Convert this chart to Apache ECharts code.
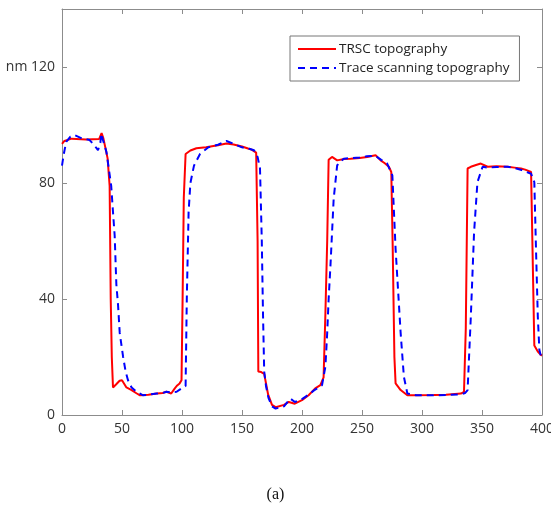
<!DOCTYPE html>
<html>
<head>
<meta charset="utf-8">
<script src="https://cdn.jsdelivr.net/npm/echarts@6/dist/echarts.min.js"></script>
<style>html,body{margin:0;padding:0;background:#fff;}#c{width:551px;height:510px;}</style>
</head>
<body>
<div id="c"></div>
<script>
const xTicks = [0, 50, 100, 150, 200, 250, 300, 350, 400];
const yTicks = [0, 40, 80, 120];
const seriesNames = ['TRSC topography', 'Trace scanning topography'];

const trscX = [0, 2, 8, 20, 31, 33, 34.5, 38, 39.7, 40.6, 41.5, 42.5, 45, 48, 50, 53.7, 58, 62, 65, 72, 79, 84, 87, 91, 94, 96, 98, 99.6, 100.5, 101.5, 103, 107, 112, 120, 130, 137, 143, 150, 155, 158, 161.8, 163, 163.6, 166, 168.5, 171.8, 175, 178, 185, 189, 194, 200, 205.5, 211, 215.3, 218, 219.5, 221, 222.2, 225, 229.3, 235, 240.4, 248, 254.3, 261.3, 265.5, 269, 272.4, 274.4, 275.5, 277, 278, 282.2, 287.8, 295, 310, 320, 332.4, 335, 336.5, 338, 340.7, 345, 349, 354.7, 362, 371.4, 377, 382.5, 386, 390.9, 392.3, 393.6, 396.5, 399.2, 400];
const trscY = [93.5, 94.5, 95.3, 95, 95.2, 97.2, 95.4, 88.5, 79, 40, 20, 9.5, 10.5, 11.8, 12, 9.5, 8.6, 7.5, 6.8, 7, 7.4, 7.6, 8.0, 7.4, 9.2, 10.2, 10.9, 12, 40, 75, 90, 91.2, 92, 92.3, 93, 93.6, 93.3, 92.6, 91.9, 91.5, 90.5, 60, 15, 14.8, 14.2, 7, 3.5, 2.7, 3.5, 4.5, 3.9, 5.1, 6.8, 9.2, 10.3, 13, 35, 60, 88, 89, 87.8, 88.3, 88.4, 88.6, 89, 89.6, 87.8, 86.8, 85.6, 83.8, 60, 20, 10.9, 8.6, 6.8, 6.8, 6.9, 7, 7.4, 8, 30, 85, 85.6, 86.2, 86.7, 85.6, 85.8, 85.6, 85.3, 85, 84.6, 83.8, 83.5, 24, 21.9, 20.7, 20.5];

const traceX = [0, 1.5, 3.5, 7, 10.5, 16, 23, 27, 30, 32, 32.8, 34, 37, 39, 41, 42.5, 43.9, 45.3, 46.7, 48.1, 50.9, 53, 55, 58, 62, 67.6, 72, 79, 84, 87, 91, 95.5, 99.7, 103, 104, 105.5, 107, 110, 115, 122, 130, 137, 143, 150, 156, 160, 163, 165, 166.5, 167.5, 168.5, 170, 172, 175, 178, 185, 190.2, 194, 200, 205.5, 210, 213.9, 216.7, 219.5, 221, 222.2, 223.7, 226.4, 229.3, 234.8, 240, 248, 254, 261, 266, 271, 275.3, 278, 282.2, 284.9, 287.8, 295, 310, 320, 332, 336, 338, 340.7, 343.4, 346.2, 350.5, 355, 362, 371.4, 377, 383, 387, 390.9, 393.6, 395, 396.5, 397.8, 399.2, 400];
const traceY = [86, 90, 94.2, 96, 96.5, 95.5, 94.8, 93, 91.3, 94, 97, 95, 90.8, 85, 79, 70, 61.8, 45, 38, 28.3, 20.1, 15, 12, 9.5, 8, 6.8, 7, 7.4, 7.6, 8, 7.8, 8, 9.2, 10, 40, 70, 80, 86, 90, 92.3, 93.2, 94.5, 93.5, 92.3, 91.8, 91.3, 89, 85, 60, 35, 15, 10, 6, 3, 2.2, 3, 5.7, 4.5, 5.5, 7, 8.5, 9.5, 10.3, 16.7, 28.3, 40, 51.4, 74.6, 86.1, 88.4, 88.6, 88.8, 89.2, 89.4, 88, 86.7, 82.6, 57.2, 28.3, 13.2, 7.4, 6.8, 6.8, 6.9, 7.1, 7.6, 8.6, 34, 63, 80.3, 85.6, 85.3, 85.5, 85.6, 85.2, 84.5, 83.8, 83.2, 80.3, 57.2, 34, 22.5, 20.1, 19.5];

const pairs = (xs, ys) => xs.map((x, i) => [x, ys[i]]);

const axisColor = '#8c8c8c';
const labelFont = {color: '#333', fontSize: 14, fontFamily: 'Open Sans'};

const chart = echarts.init(document.getElementById('c'), null, {renderer: 'canvas'});
chart.setOption({
  animation: false,
  backgroundColor: '#fff',
  grid: {left: 62, right: 9, top: 9, bottom: 95, outerBoundsMode: 'none', containLabel: false},
  title: {text: '(a)', left: 'center', top: 482, textStyle: {fontFamily: 'Liberation Serif', fontSize: 16, fontWeight: 'normal', color: '#111'}},
  legend: {
    orient: 'vertical', left: 290, top: 36,
    padding: [6, 10, 6, 7], itemGap: 5,
    itemWidth: 38, itemHeight: 14,
    borderColor: '#777', borderWidth: 1, backgroundColor: '#fff',
    itemStyle: {opacity: 0, borderWidth: 0},
    textStyle: {color: '#222', fontSize: 13.5, fontFamily: 'Open Sans', padding: [0, 0, 0, -2]},
    data: seriesNames
  },
  xAxis: [{
    type: 'value', min: 0, max: 400, interval: 50, position: 'bottom',
    axisLine: {show: true, onZero: false, lineStyle: {color: axisColor, width: 1}},
    axisTick: {show: true, inside: true, length: 5, lineStyle: {color: axisColor}},
    axisLabel: Object.assign({margin: 7, formatter: v => xTicks.includes(v) ? String(v) : ''}, labelFont),
    splitLine: {show: false}
  }, {
    type: 'value', min: 0, max: 400, interval: 50, position: 'top',
    axisLine: {show: true, onZero: false, lineStyle: {color: axisColor, width: 1}},
    axisTick: {show: true, inside: true, length: 5, lineStyle: {color: axisColor}},
    axisLabel: {show: false}, splitLine: {show: false}
  }],
  yAxis: [{
    type: 'value', min: 0, max: 140, interval: 40, position: 'left',
    axisLine: {show: true, onZero: false, lineStyle: {color: axisColor, width: 1}},
    axisTick: {show: true, inside: true, length: 5, lineStyle: {color: axisColor}},
    axisLabel: Object.assign({margin: 7, showMaxLabel: false, formatter: v => v === 120 ? 'nm 120' : (yTicks.includes(v) ? String(v) : '')}, labelFont),
    splitLine: {show: false}
  }, {
    type: 'value', min: 0, max: 140, interval: 40, position: 'right',
    axisLine: {show: true, onZero: false, lineStyle: {color: axisColor, width: 1}},
    axisTick: {show: true, inside: true, length: 5, lineStyle: {color: axisColor}},
    axisLabel: {show: false}, splitLine: {show: false}
  }],
  series: [{
    name: seriesNames[0], type: 'line', xAxisIndex: 0, yAxisIndex: 0,
    data: pairs(trscX, trscY), symbol: 'none', showSymbol: false,
    lineStyle: {color: '#ff0000', width: 2}, itemStyle: {color: '#ff0000'}, z: 3
  }, {
    name: seriesNames[1], type: 'line', xAxisIndex: 0, yAxisIndex: 0,
    data: pairs(traceX, traceY), symbol: 'none', showSymbol: false,
    lineStyle: {color: '#0000ff', width: 2, type: [7, 5]}, itemStyle: {color: '#0000ff'}, z: 4
  }]
});
</script>
</body>
</html>
